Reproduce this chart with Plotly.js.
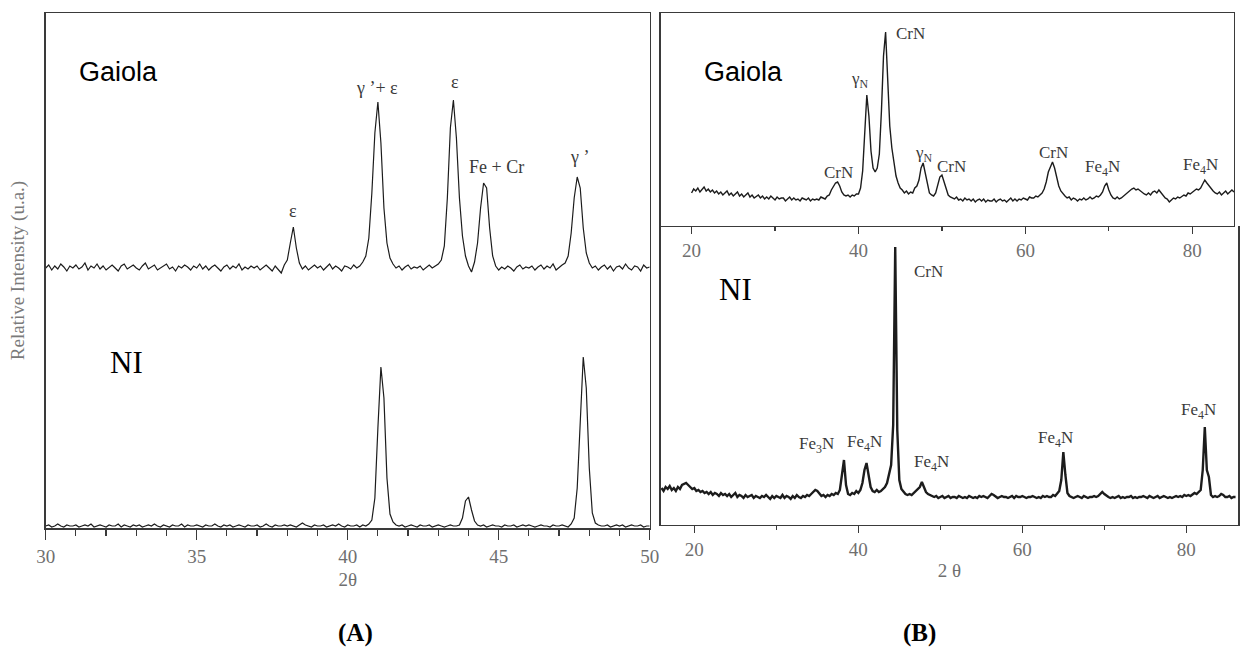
<!DOCTYPE html>
<html><head><meta charset="utf-8">
<script src="https://cdn.plot.ly/plotly-3.0.1.min.js"></script>
<style>html,body{margin:0;padding:0;background:#fff}#chart{width:1240px;height:650px}</style>
</head><body><div id="chart"></div>
<script>
// ---------- DATA ----------
// Panel A: 2θ from 30.0 to 50.0, step 0.1 (relative intensity, arbitrary units)
const panelA_start = 30.0;
const panelA_step = 0.1;
const gaiolaA = [
 260,263,258,262,259,264,261,257,262,260,
 263,259,261,265,258,262,260,264,259,262,
 258,261,263,260,257,262,264,259,261,263,
 260,258,262,265,259,261,263,258,260,262,
 264,259,261,257,262,260,263,261,258,262,
 260,264,259,262,258,261,263,260,257,261,
 263,259,262,260,264,258,261,259,262,260,
 262,258,261,263,260,257,262,259,255,263,
 268,285,301,280,265,259,262,258,261,263,
 260,262,258,261,264,259,262,260,257,262,
 261,259,263,260,262,266,272,290,335,395,
 426,385,320,285,270,264,260,262,258,261,
 263,259,261,260,262,258,261,263,260,262,
 264,268,282,330,400,428,390,330,292,272,
 262,256,266,285,320,345,340,300,272,262,
 258,261,259,262,260,257,261,263,259,261,
 260,262,258,261,263,259,262,260,264,258,
 261,263,265,272,295,330,351,340,300,275,
 265,260,262,258,261,263,259,262,257,261,
 262,259,264,260,258,262,261,257,263,260,
 261];
const niA = [
 2,3,1,2,4,2,1,3,2,2,
 3,1,2,3,2,4,1,2,3,2,
 1,3,2,2,4,1,3,2,1,3,
 2,3,1,2,3,2,4,2,1,3,
 2,1,3,2,2,4,1,3,2,2,
 3,2,1,3,2,2,4,2,1,3,
 2,3,1,2,3,2,1,3,2,2,
 3,1,2,4,2,1,3,2,2,3,
 2,3,2,1,3,5,3,2,1,3,
 2,2,3,1,2,3,2,4,2,1,
 3,2,2,3,1,3,2,4,8,30,
 100,161,130,50,14,6,3,2,3,1,
 2,3,2,1,3,2,2,3,1,2,
 3,2,1,2,3,2,2,3,10,27,
 31,18,7,3,2,3,1,2,3,2,
 2,1,3,2,2,3,1,2,3,2,
 3,2,1,2,3,2,2,1,3,2,
 2,3,2,1,4,10,40,110,171,140,
 60,15,5,3,2,2,3,1,2,3,
 2,3,1,2,3,2,2,3,1,2,
 2];

// Panel B (top, Gaiola): 2θ from 20 to 85, step 0.25
const gaiolaB_start = 20;
const panelB_step = 0.25;
const gaiolaB = [
 33,37,35,38, 34,36,39,35, 37,34,36,33, 35,32,34,31, 33,35,31,33,
 30,32,34,30, 32,29,31,33, 29,31,28,30, 31,28,30,27, 29,27,30,28,
 26,29,27,28, 28,25,27,29, 26,28,26,27, 25,28,27,26, 28,25,27,26,
 27,26,29,28, 27,30,31,36, 40,43,44,40, 34,31,30,31, 29,31,30,32,
 32,38,55,95, 131,110,75,58, 54,58,72,115, 170,194,150,100, 78,62,50,43,
 38,36,33,35, 32,34,33,38, 40,46,58,63, 52,40,33,31, 30,33,41,49,
 51,44,36,31, 29,28,27,29, 26,27,25,28, 26,27,25,27, 24,26,27,25,
 27,24,26,25, 25,27,24,26, 27,25,26,24, 26,28,25,27, 25,27,26,28,
 27,26,29,28, 28,30,29,31, 33,37,44,54, 60,64,58,48, 40,35,32,30,
 28,29,26,28, 27,25,27,26, 28,26,27,29, 27,28,30,29, 31,34,40,43,
 36,31,28,27, 29,27,28,30, 31,33,36,37, 38,36,37,35, 33,32,31,33,
 31,34,35,33, 36,33,31,28, 27,24,26,28, 27,29,28,30, 31,30,33,32,
 34,35,37,36, 38,42,46,43, 40,37,35,33, 32,34,31,33, 35,32,34,36,
 34];

// Panel B (bottom, NI): 2θ from 16 to 86, step 0.25
const niB_start = 16;
const niB = [
 37,34,38,36, 39,35,37,34, 38,36,40,41, 42,40,38,36, 37,34,35,33,
 34,32,33,31, 33,30,32,31, 29,32,30,31, 29,31,28,30, 32,28,30,29,
 27,30,28,29, 30,27,29,28, 27,29,28,30, 28,26,29,27, 29,28,27,30,
 27,29,28,26, 29,27,30,28, 27,29,28,30, 29,31,33,35, 34,31,29,30,
 28,30,29,31, 30,32,31,35, 50,65,40,31, 30,32,31,34, 32,35,42,55,
 62,48,38,34, 33,35,33,34, 36,38,42,50, 60,100,278,95, 45,36,33,31,
 30,31,30,32, 33,35,38,43, 38,33,31,30, 29,28,29,27, 28,29,27,28,
 29,27,28,28, 27,29,28,27, 28,27,29,28, 27,28,27,29, 28,29,28,27,
 29,31,30,28, 27,28,29,28, 28,27,28,29, 27,29,28,28, 29,28,27,28,
 28,29,28,27, 28,27,29,28, 29,28,28,30, 29,31,34,45, 73,50,32,29,
 28,27,28,29, 28,27,29,28, 27,28,28,29, 28,29,31,33, 31,29,28,27,
 28,27,28,29, 27,28,27,28, 28,29,27,28, 27,28,28,29, 28,27,29,28,
 27,28,29,27, 28,29,28,27, 28,27,28,29, 28,29,28,30, 29,30,29,31,
 32,31,33,35, 55,98,55,48, 30,28,29,28, 29,31,30,28, 28,29,27,28,
 28];

// Tick labels
const ticksA = [30, 35, 40, 45, 50];
const ticksB = [20, 40, 60, 80];

// Peak labels: text, 2θ, intensity level
const peakTextA = ['ε', 'γ ’+ ε', 'ε', 'Fe + Cr', 'γ ’'];
const peakPosA  = [38.18, 40.96, 43.55, 44.94, 47.66];
const peakLvlA  = [317, 440, 446, 361, 371];

const peakTextBG = ['CrN', 'γ<sub>N</sub>', 'CrN', 'γ<sub>N</sub>', 'CrN', 'CrN', 'Fe<sub>4</sub>N', 'Fe<sub>4</sub>N'];
const peakPosBG  = [37.6, 40.2, 46.2, 47.8, 51.1, 63.4, 69.3, 81.0];
const peakLvlBG  = [54, 146, 193, 72, 60, 74, 58, 60];

const peakTextBN = ['CrN', 'Fe<sub>3</sub>N', 'Fe<sub>4</sub>N', 'Fe<sub>4</sub>N', 'Fe<sub>4</sub>N', 'Fe<sub>4</sub>N'];
const peakPosBN  = [48.5, 34.9, 40.7, 48.9, 64.1, 81.5];
const peakLvlBN  = [253, 80, 82, 62, 86, 114];

// ---------- CHART ----------
const SERIF = '"Liberation Serif", "Times New Roman", serif';
const SANS = '"Liberation Sans", Arial, sans-serif';
const INK = '#1c1c1c';
const AX = '#3a3a3a';
const GREY = '#6f6f6f';
const TICKFONT = {family: SERIF, size: 19, color: GREY};

const traces = [
  {y: gaiolaA, x0: panelA_start, dx: panelA_step, xaxis: 'x', yaxis: 'y', type: 'scatter', mode: 'lines', line: {color: INK, width: 1.2}, name: 'Gaiola'},
  {y: niA, x0: panelA_start, dx: panelA_step, xaxis: 'x', yaxis: 'y', type: 'scatter', mode: 'lines', line: {color: INK, width: 1.2}, name: 'NI'},
  {y: gaiolaB, x0: gaiolaB_start, dx: panelB_step, xaxis: 'x2', yaxis: 'y2', type: 'scatter', mode: 'lines', line: {color: INK, width: 1.4}, name: 'Gaiola'},
  {y: niB, x0: niB_start, dx: panelB_step, xaxis: 'x3', yaxis: 'y3', type: 'scatter', mode: 'lines', line: {color: INK, width: 2.4}, name: 'NI'}
];

const annotations = [];
function addLabels(texts, xs, ys, xr, yr, size) {
  texts.forEach((t, i) => annotations.push({
    x: xs[i], y: ys[i], xref: xr, yref: yr, text: t, showarrow: false,
    xanchor: 'center', yanchor: 'middle',
    font: {family: SERIF, size: size, color: '#3a3a3a'}
  }));
}
addLabels(peakTextA, peakPosA, peakLvlA, 'x', 'y', 18);
addLabels(peakTextBG, peakPosBG, peakLvlBG, 'x2', 'y2', 17);
addLabels(peakTextBN, peakPosBN, peakLvlBN, 'x3', 'y3', 17);

annotations.push(
  {x: 32.41, y: 456, xref: 'x', yref: 'y', text: 'Gaiola', showarrow: false, xanchor: 'center', yanchor: 'middle', font: {family: SANS, size: 27, color: '#000'}},
  {x: 32.69, y: 166, xref: 'x', yref: 'y', text: 'NI', showarrow: false, xanchor: 'center', yanchor: 'middle', font: {family: SERIF, size: 31, color: '#000'}},
  {x: 26.2, y: 154, xref: 'x2', yref: 'y2', text: 'Gaiola', showarrow: false, xanchor: 'center', yanchor: 'middle', font: {family: SANS, size: 27, color: '#000'}},
  {x: 25.0, y: 235, xref: 'x3', yref: 'y3', text: 'NI', showarrow: false, xanchor: 'center', yanchor: 'middle', font: {family: SERIF, size: 31, color: '#000'}},
  {x: 0.2863, y: 0.026, xref: 'paper', yref: 'paper', text: '<b>(A)</b>', showarrow: false, xanchor: 'center', yanchor: 'middle', font: {family: SERIF, size: 25, color: '#000'}},
  {x: 0.7419, y: 0.026, xref: 'paper', yref: 'paper', text: '<b>(B)</b>', showarrow: false, xanchor: 'center', yanchor: 'middle', font: {family: SERIF, size: 25, color: '#000'}}
);

const baseX = {
  showline: true, linecolor: AX, linewidth: 1.5, showgrid: false, zeroline: false,
  ticks: 'outside', tickcolor: AX, tickwidth: 1.5, tickfont: TICKFONT, fixedrange: true
};
const baseY = {
  showline: true, linecolor: AX, linewidth: 1.5, mirror: true, showgrid: false, zeroline: false,
  ticks: '', showticklabels: false, fixedrange: true
};

const layout = {
  width: 1240, height: 650,
  margin: {l: 0, r: 0, t: 0, b: 0},
  paper_bgcolor: '#fff', plot_bgcolor: '#fff',
  showlegend: false,
  xaxis: Object.assign({}, baseX, {
    domain: [0.03685, 0.52395], range: [30, 50], anchor: 'y', mirror: true,
    tickmode: 'array', tickvals: ticksA, ticklen: 10, ticklabelstandoff: 1,
    minor: {dtick: 1, tick0: 30, ticks: 'outside', ticklen: 6, tickcolor: AX, tickwidth: 1.2},
    title: {text: '2θ', font: {family: SERIF, size: 19, color: GREY}, standoff: 6}
  }),
  yaxis: Object.assign({}, baseY, {
    domain: [0.18769, 0.98], range: [0, 515], anchor: 'x',
    title: {text: 'Relative Intensity (u.a.)', font: {family: SERIF, size: 19, color: '#7a7a7a'}, standoff: 14}
  }),
  xaxis2: Object.assign({}, baseX, {
    domain: [0.53282, 0.99516], range: [16.3, 85], anchor: 'y2', mirror: true,
    tickmode: 'array', tickvals: ticksB, ticklen: 7,
    minor: {dtick: 10, tick0: 20, ticks: 'outside', ticklen: 4, tickcolor: AX, tickwidth: 1.2}
  }),
  yaxis2: Object.assign({}, baseY, {domain: [0.65231, 0.98], range: [0, 213], anchor: 'x2'}),
  xaxis3: Object.assign({}, baseX, {
    domain: [0.53282, 0.99839], range: [15.9, 86.3], anchor: 'y3',
    tickmode: 'array', tickvals: ticksB, ticklen: 7,
    minor: {dtick: 10, tick0: 20, ticks: 'outside', ticklen: 4, tickcolor: AX, tickwidth: 1.2},
    title: {text: '2 θ', font: {family: SERIF, size: 19, color: GREY}, standoff: 4}
  }),
  yaxis3: Object.assign({}, baseY, {domain: [0.19231, 0.65231], range: [0, 299], anchor: 'x3'}),
  annotations: annotations
};

Plotly.newPlot('chart', traces, layout, {staticPlot: true, displayModeBar: false});
</script>
</body></html>
